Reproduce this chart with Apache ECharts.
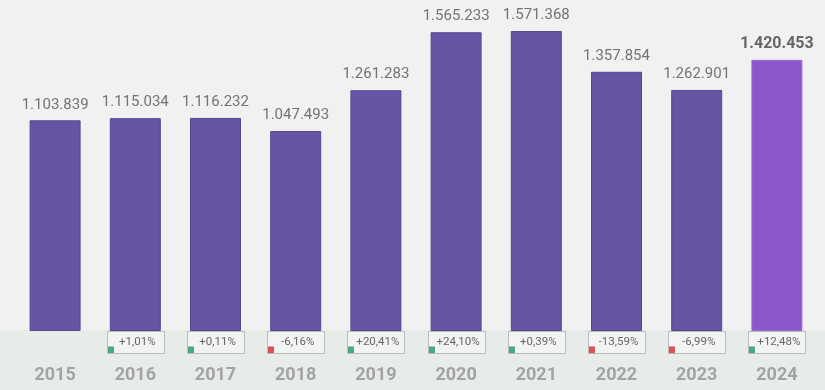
<!DOCTYPE html>
<html><head><meta charset="utf-8">
<script src="https://cdn.jsdelivr.net/npm/echarts@6/dist/echarts.min.js"></script>
<style>html,body{margin:0;padding:0;background:#f1f1f1}#c{width:825px;height:390px}</style>
</head><body><div id="c"></div>
<script>
const years = ['2015','2016','2017','2018','2019','2020','2021','2022','2023','2024'];
const values = [1103839,1115034,1116232,1047493,1261283,1565233,1571368,1357854,1262901,1420453];
const changes = [null,'+1,01%','+0,11%','-6,16%','+20,41%','+24,10%','+0,39%','-13,59%','-6,99%','+12,48%'];

const fmt = v => String(v).replace(/\B(?=(\d{3})+(?!\d))/g, '.');
const chart = echarts.init(document.getElementById('c'));
chart.setOption({
  backgroundColor: '#f1f1f1',
  animation: false,
  graphic: [{type:'rect', z:-1, shape:{x:0,y:330,width:825,height:60}, style:{fill:'#e7ece9'}}],
  grid: {left: 15, right: 8, top: 0, bottom: 59},
  xAxis: {
    type: 'category', data: years,
    axisLine: {show:false}, axisTick: {show:false},
    axisLabel: {color:'#a3a3a3', fontSize:18, fontWeight:'bold', fontFamily:'Roboto', margin:35}
  },
  yAxis: {type:'value', min:0, max:1734000, show:false, splitLine:{show:false}},
  series: [{
    type: 'bar', barWidth: 51,
    data: values.map((v,i) => ({
      value: v,
      itemStyle: {color: i === values.length-1 ? '#8a58c9' : '#6654a5', borderColor: i === values.length-1 ? '#9a6ad6' : '#564890', borderWidth: 1},
      label: i === values.length-1 ? {fontWeight:'bold', fontSize:16, color:'#666'} : {}
    })),
    label: {show:true, position:'top', distance:8, color:'#737373', fontSize:15, fontFamily:'Roboto', formatter: p => fmt(p.value)}
  },{
    type: 'custom',
    data: changes.map((c,i) => [i, 0, c]),
    renderItem: function(params, api) {
      const c = changes[params.dataIndex];
      if (!c) return null;
      const p = api.coord([api.value(0), 0]);
      const w = 57, h = 22;
      const x = Math.round(p[0] - w/2) + 0.5, y = Math.round(p[1]) + 0.5;
      const neg = c.charAt(0) === '-';
      return {type:'group', children:[
        {type:'rect', shape:{x:x, y:y, width:w, height:h}, style:{fill:'#f2f4f3', stroke:'#b9bcba', lineWidth:1}},
        {type:'rect', shape:{x:x+0.5, y:y+h-7, width:6, height:6.5}, style:{fill: neg ? '#d9534f' : '#4aa883'}},
        {type:'text', style:{x:p[0]+2, y:y+h/2, text:c, fill:'#666', fontSize:11.5, fontFamily:'Roboto', align:'center', verticalAlign:'middle'}}
      ]};
    }
  }]
});
</script></body></html>
